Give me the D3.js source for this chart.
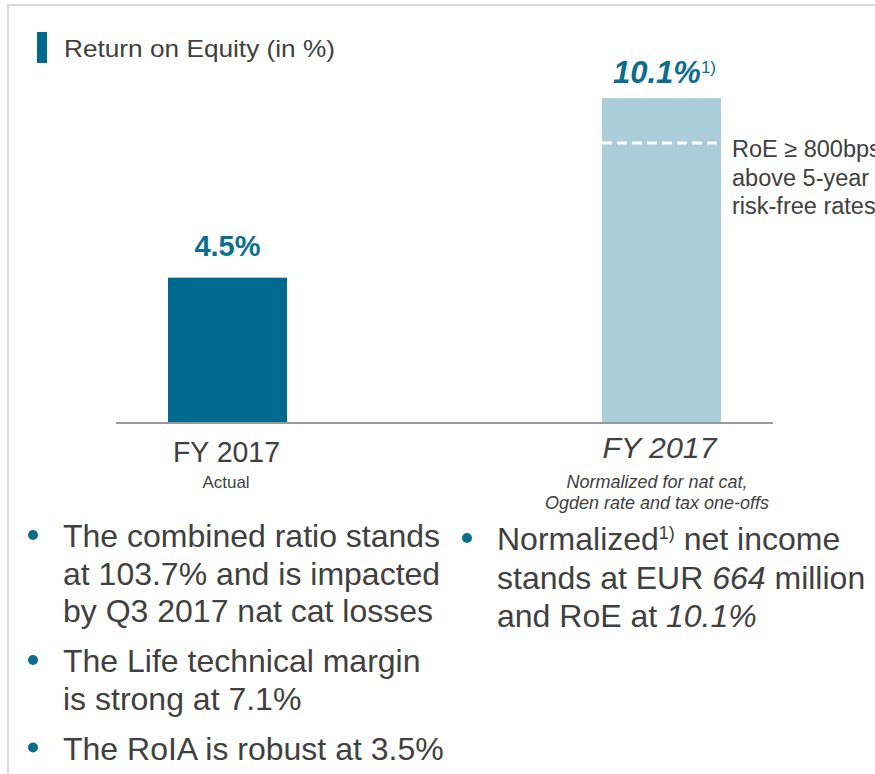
<!DOCTYPE html>
<html>
<head>
<meta charset="utf-8">
<script src="https://cdn.jsdelivr.net/npm/d3@7"></script>
<style>
    body { margin: 0; background: #fff; }
    svg { display: block; font-family: "Liberation Sans", Arial, sans-serif; }
</style>
</head>
<body>
<div class="chart"></div>
<script>
// data
const title = "Return on Equity (in %)";
const categories = ["FY 2017", "FY 2017"];
const subLabels = [["Actual"], ["Normalized for nat cat,", "Ogden rate and tax one-offs"]];
const roeValues = [4.5, 10.1];
const valueLabels = ["4.5%", "10.1%"];
const valueNotes = ["", "1)"];
const targetLevel = 8.7; // dashed line inside the normalized bar
const targetNote = ["RoE \u2265 800bps", "above 5-year", "risk-free rates"];

// bullet lines: each line is a list of [text, style] parts
const bulletsLeft = [
    [[["The combined ratio stands", ""]], [["at 103.7% and is impacted", ""]], [["by Q3 2017 nat cat losses", ""]]],
    [[["The Life technical margin", ""]], [["is strong at 7.1%", ""]]],
    [[["The RoIA is robust at 3.5%", ""]]]
];
const bulletsRight = [
    [[["Normalized", ""], ["1)", "sup"], [" net income", ""]],
     [["stands at EUR ", ""], ["664", "it"], [" million", ""]],
     [["and RoE at ", ""], ["10.1%", "it"]]]
];

const W = 875, H = 774;
const darkTeal = "#006a8e", lightBlue = "#abcdd9", textGrey = "#404040", labelTeal = "#0b6e8f";

const svg = d3.select(".chart").append("svg")
    .attr("width", W)
    .attr("height", H);

// slide frame (top + left edge)
svg.append("line").attr("x1", 7).attr("x2", W).attr("y1", 5).attr("y2", 5)
    .attr("stroke", "#dadada").attr("stroke-width", 2);
svg.append("line").attr("x1", 8).attr("x2", 8).attr("y1", 5).attr("y2", H)
    .attr("stroke", "#dadada").attr("stroke-width", 2);

// title with marker
svg.append("rect").attr("x", 37).attr("y", 32).attr("width", 10).attr("height", 31).attr("fill", darkTeal);
svg.append("text").attr("x", 64).attr("y", 57)
    .attr("font-size", 24).attr("fill", textGrey)
    .attr("textLength", 271).attr("lengthAdjust", "spacingAndGlyphs")
    .text(title);

// scales
const baseY = 422;
const yScale = d3.scaleLinear().domain([0, 10.1]).range([baseY, 98]);
const xScale = d3.scalePoint().domain(d3.range(roeValues.length)).range([227.5, 661.5]);
const barW = 119;
const barColors = [darkTeal, lightBlue];

const g = svg.append("g");

g.selectAll(".bar")
    .data(roeValues)
    .enter().append("rect")
    .attr("class", "bar")
    .attr("x", (d, i) => xScale(i) - barW / 2)
    .attr("y", d => yScale(d))
    .attr("width", barW)
    .attr("height", d => baseY - yScale(d))
    .attr("fill", (d, i) => barColors[i]);

// dashed target line on the normalized bar
g.append("line")
    .attr("x1", xScale(1) - barW / 2).attr("x2", xScale(1) + barW / 2)
    .attr("y1", yScale(targetLevel)).attr("y2", yScale(targetLevel))
    .attr("stroke", "#fff").attr("stroke-width", 3)
    .attr("stroke-dasharray", "10,5");

g.append("text")
    .attr("x", 732).attr("y", yScale(targetLevel) + 14.5)
    .attr("font-size", 23.5).attr("fill", textGrey)
    .selectAll("tspan").data(targetNote).enter().append("tspan")
    .attr("x", 732).attr("dy", (d, i) => i === 0 ? 0 : 28.5)
    .text(d => d);

// baseline axis
g.append("line").attr("x1", 116).attr("x2", 773).attr("y1", baseY + 1).attr("y2", baseY + 1)
    .attr("stroke", "#999").attr("stroke-width", 2);

// value labels
const vl = g.selectAll(".value")
    .data(roeValues)
    .enter().append("text")
    .attr("class", "value")
    .attr("x", (d, i) => xScale(i) + (i === 1 ? 3 : 0))
    .attr("y", (d, i) => yScale(d) - (i === 1 ? 15 : 22))
    .attr("text-anchor", "middle")
    .attr("fill", labelTeal)
    .attr("font-weight", "bold")
    .attr("font-style", (d, i) => i === 1 ? "italic" : "normal")
    .attr("font-size", (d, i) => i === 1 ? 31 : 29);
vl.append("tspan").text((d, i) => valueLabels[i]);
vl.append("tspan")
    .attr("font-size", 17).attr("font-weight", "normal").attr("font-style", "normal")
    .attr("dy", -10)
    .text((d, i) => valueNotes[i]);

// category labels
g.selectAll(".cat")
    .data(categories)
    .enter().append("text")
    .attr("class", "cat")
    .attr("x", (d, i) => i === 0 ? 226.5 : 659.5)
    .attr("y", (d, i) => i === 0 ? 462 : 458)
    .attr("text-anchor", "middle")
    .attr("fill", textGrey)
    .attr("font-size", 29)
    .attr("font-style", (d, i) => i === 1 ? "italic" : "normal")
    .attr("textLength", (d, i) => i === 0 ? 107 : 114)
    .attr("lengthAdjust", "spacingAndGlyphs")
    .text(d => d);

subLabels.forEach((lines, i) => {
    lines.forEach((line, j) => {
        g.append("text")
            .attr("x", i === 0 ? 226 : 657)
            .attr("y", 487.5 + j * 21)
            .attr("text-anchor", "middle")
            .attr("fill", textGrey)
            .attr("font-size", i === 0 ? 17 : 18)
            .attr("font-style", i === 1 ? "italic" : "normal")
            .text(line);
    });
});

// bullet lists
function drawBullets(items, x, y0, lineH, gap) {
    let y = y0;
    items.forEach(item => {
        svg.append("circle").attr("cx", x - 30).attr("cy", y - 12).attr("r", 5).attr("fill", labelTeal);
        item.forEach(line => {
            const t = svg.append("text").attr("x", x).attr("y", y)
                .attr("font-size", 32).attr("fill", textGrey);
            line.forEach(part => {
                const s = t.append("tspan").text(part[0]);
                if (part[1] === "it") s.attr("font-style", "italic");
                if (part[1] === "sup") {
                    s.attr("font-size", 18).attr("dy", -11);
                }
            });
            // undo superscript shift for following parts
            t.selectAll("tspan").each(function (d, k) {
                if (k > 0 && line[k - 1][1] === "sup") d3.select(this).attr("dy", 11);
            });
            y += lineH;
        });
        y += gap;
    });
}

drawBullets(bulletsLeft, 63, 547, 37.5, 12.5);
drawBullets(bulletsRight, 497, 550, 38.5, 0);
</script>
</body>
</html>
